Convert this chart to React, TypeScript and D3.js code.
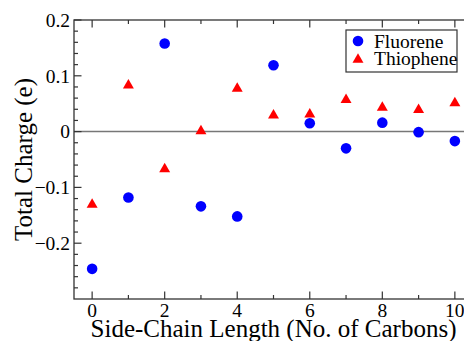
import React from "react";
import * as d3 from "d3";

// Side-chain lengths (number of carbons)
const carbons = [0, 1, 2, 3, 4, 5, 6, 7, 8, 9, 10];
// Total charge (e) per side-chain length
const fluorene = [-0.246, -0.118, 0.158, -0.134, -0.152, 0.119, 0.015, -0.030, 0.016, -0.001, -0.017];
const thiophene = [-0.131, 0.083, -0.067, 0.001, 0.077, 0.029, 0.031, 0.057, 0.043, 0.039, 0.051];

const xMajor = [0, 2, 4, 6, 8, 10];
const xMinor = [1, 3, 5, 7, 9];
const yMajor = [-0.2, -0.1, 0, 0.1, 0.2];
const yMinor = [-0.28, -0.26, -0.24, -0.22, -0.18, -0.16, -0.14, -0.12, -0.08, -0.06, -0.04, -0.02,
  0.02, 0.04, 0.06, 0.08, 0.12, 0.14, 0.16, 0.18];

const seriesNames = ["Fluorene", "Thiophene"];

const W = 464;
const H = 341;
const left = 74;
const right = 473;
const top = 20;
const bottom = 299;

const x = d3.scaleLinear().domain([-0.5, 10.5]).range([left, right]);
const y = d3.scaleLinear().domain([-0.3, 0.2]).range([bottom, top]);

const tri = d3.symbol(d3.symbolTriangle, 52)() as string;
const font = "'Liberation Serif', 'Times New Roman', Times, serif";
const axisColor = "#333";

export default function App() {
  const fmt = (v: number) => (Math.abs(v) < 1e-9 ? "0" : d3.format(".1f")(v));
  return (
    <svg width={W} height={H} style={{ position: "absolute", left: 0, top: 0, background: "#fff", fontFamily: font }}>
      <rect x={0} y={0} width={W} height={H} fill="#fff" />
      {/* zero reference line */}
      <line x1={left} x2={right} y1={y(0)} y2={y(0)} stroke="#777" strokeWidth={1.5} />

      {/* frame */}
      <rect x={left} y={top} width={right - left} height={bottom - top} fill="none" stroke={axisColor} strokeWidth={1.3} />

      {/* x ticks bottom and top */}
      {xMajor.map((v) => (
        <g key={"xM" + v}>
          <line x1={x(v)} x2={x(v)} y1={bottom} y2={bottom - 7.5} stroke={axisColor} strokeWidth={1.2} />
          <line x1={x(v)} x2={x(v)} y1={top} y2={top + 7.5} stroke={axisColor} strokeWidth={1.2} />
          <text x={x(v)} y={317} textAnchor="middle" fontSize={19.5} fill="#000">{v}</text>
        </g>
      ))}
      {xMinor.map((v) => (
        <g key={"xm" + v}>
          <line x1={x(v)} x2={x(v)} y1={bottom} y2={bottom - 4} stroke={axisColor} strokeWidth={1.2} />
          <line x1={x(v)} x2={x(v)} y1={top} y2={top + 4} stroke={axisColor} strokeWidth={1.2} />
        </g>
      ))}

      {/* y ticks */}
      {yMajor.map((v) => (
        <g key={"yM" + v}>
          <line x1={left} x2={left + 7.5} y1={y(v)} y2={y(v)} stroke={axisColor} strokeWidth={1.2} />
          <text x={70} y={y(v)} dy="0.35em" textAnchor="end" fontSize={19.5} fill="#000">{fmt(v)}</text>
        </g>
      ))}
      {yMinor.map((v) => (
        <line key={"ym" + v} x1={left} x2={left + 4} y1={y(v)} y2={y(v)} stroke={axisColor} strokeWidth={1.2} />
      ))}

      {/* axis titles */}
      <text x={(left + right) / 2} y={337} textAnchor="middle" fontSize={25} fill="#000">
        Side-Chain Length (No. of Carbons)
      </text>
      <text transform={`translate(32,${(top + bottom) / 2}) rotate(-90)`} textAnchor="middle" fontSize={25} fill="#000">
        Total Charge (e)
      </text>

      {/* data */}
      {carbons.map((c, i) => (
        <circle key={"f" + c} cx={x(c)} cy={y(fluorene[i])} r={5.3} fill="#0000ff" />
      ))}
      {carbons.map((c, i) => (
        <path key={"t" + c} d={tri} transform={`translate(${x(c)},${y(thiophene[i])})`} fill="#ff0000" />
      ))}

      {/* legend */}
      <rect x={346} y={30} width={111} height={42} fill="#fff" stroke={axisColor} strokeWidth={1.2} />
      <circle cx={358} cy={41} r={5.3} fill="#0000ff" />
      <path d={tri} transform="translate(358,59.5)" fill="#ff0000" />
      <text x={374} y={47.5} fontSize={19.5} fill="#000">{seriesNames[0]}</text>
      <text x={374} y={65} fontSize={19.5} fill="#000">{seriesNames[1]}</text>
    </svg>
  );
}
